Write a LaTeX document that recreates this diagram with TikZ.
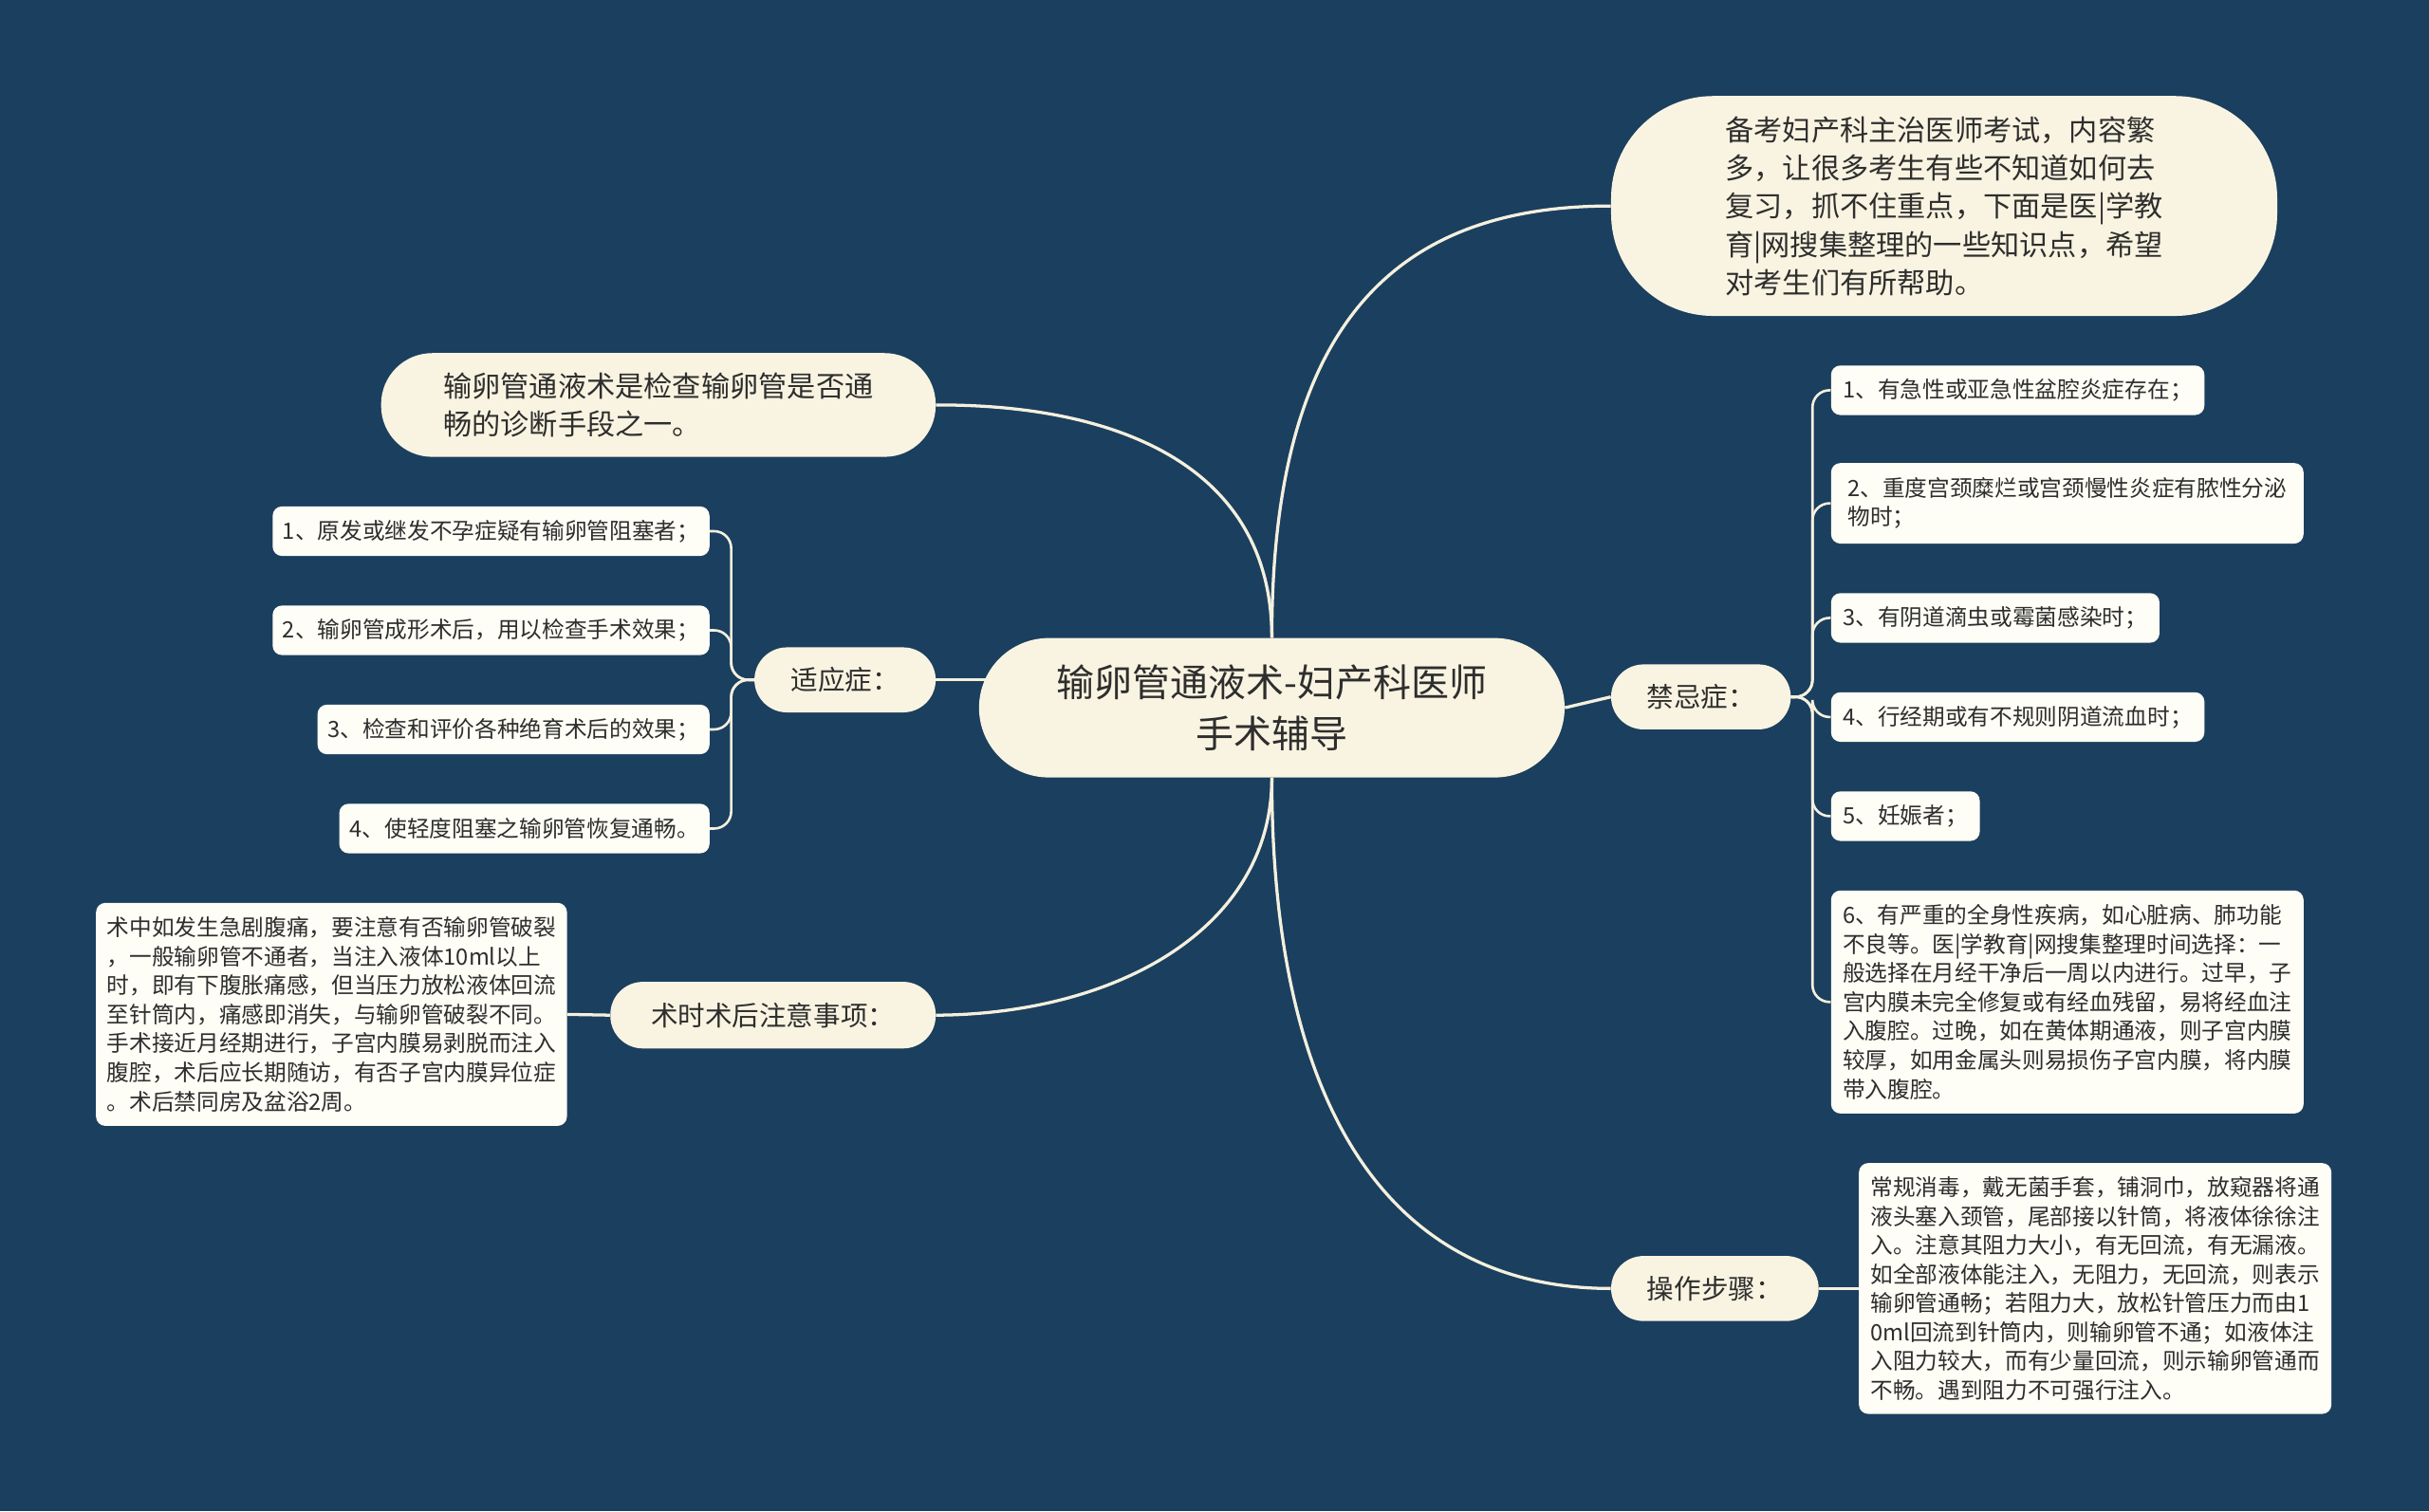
\documentclass[tikz,border=0pt]{standalone}
\usepackage{fontspec}
\setmainfont{Noto Sans CJK SC}
\usetikzlibrary{backgrounds}
\definecolor{bgc}{HTML}{1B3F5E}
\definecolor{pillc}{HTML}{F9F4E1}
\definecolor{boxc}{HTML}{FEFDF6}
\definecolor{txtc}{HTML}{2E2E2E}
\definecolor{linec}{HTML}{F4F0DE}
\tikzset{
  pill/.style={fill=pillc, draw=none, inner sep=0pt, align=left, text=txtc},
  leaf/.style={fill=boxc, draw=none, inner sep=0pt, align=left, text=txtc, rounded corners=6pt, minimum height=32pt,
    font=\fontsize{14.5}{18.7}\selectfont},
  conn/.style={draw=linec, line width=2pt},
  brk/.style={draw=linec, line width=1.6pt, rounded corners=11pt},
}
\begin{document}
\begin{tikzpicture}[x=1pt,y=-1pt]
\useasboundingbox (0,0) rectangle (1568,976);

% central
\node[pill, minimum width=378pt, minimum height=90pt, rounded corners=45pt, align=center,
  font=\fontsize{24.5}{33}\selectfont] (root) at (821,457) {输卵管通液术-妇产科医师\\手术辅导};

% intro
\node[pill, minimum width=430pt, minimum height=142pt, rounded corners=66pt,
  font=\fontsize{18.5}{24.7}\selectfont] (intro) at (1255,133)
  {备考妇产科主治医师考试，内容繁\\多，让很多考生有些不知道如何去\\复习，抓不住重点，下面是医|学教\\育|网搜集整理的一些知识点，希望\\对考生们有所帮助。};

% left top
\node[pill, minimum width=358pt, minimum height=67pt, rounded corners=33pt,
  font=\fontsize{18.5}{25}\selectfont] (lt) at (425,261.5)
  {输卵管通液术是检查输卵管是否通\\畅的诊断手段之一。};

% indications
\node[pill, minimum width=117pt, minimum height=42pt, rounded corners=21pt,
  font=\fontsize{17.5}{22}\selectfont] (syz) at (545.5,439) {适应症：};
\node[leaf, minimum width=282pt] (l1) at (317,343) {1、原发或继发不孕症疑有输卵管阻塞者；};
\node[leaf, minimum width=282pt] (l2) at (317,407) {2、输卵管成形术后，用以检查手术效果；};
\node[leaf, minimum width=253pt] (l3) at (331.5,471) {3、检查和评价各种绝育术后的效果；};
\node[leaf, minimum width=239pt] (l4) at (338.5,535) {4、使轻度阻塞之输卵管恢复通畅。};

% notes
\node[pill, minimum width=210pt, minimum height=43pt, rounded corners=21pt,
  font=\fontsize{17.5}{22}\selectfont] (sh) at (499,655.5) {术时术后注意事项：};
\node[leaf, minimum width=304pt, minimum height=144pt] (note) at (214,655)
  {术中如发生急剧腹痛，要注意有否输卵管破裂\\，一般输卵管不通者，当注入液体10ml以上\\时，即有下腹胀痛感，但当压力放松液体回流\\至针筒内，痛感即消失，与输卵管破裂不同。\\手术接近月经期进行，子宫内膜易剥脱而注入\\腹腔，术后应长期随访，有否子宫内膜异位症\\。术后禁同房及盆浴2周。};

% contraindications
\node[pill, minimum width=116pt, minimum height=42pt, rounded corners=21pt,
  font=\fontsize{17.5}{22}\selectfont] (jj) at (1098,450) {禁忌症：};
\node[leaf, minimum width=241pt] (r1) at (1302.5,252) {1、有急性或亚急性盆腔炎症存在；};
\node[leaf, minimum width=305pt, minimum height=52pt] (r2) at (1334.5,325) {2、重度宫颈糜烂或宫颈慢性炎症有脓性分泌\\物时；};
\node[leaf, minimum width=212pt] (r3) at (1288,399) {3、有阴道滴虫或霉菌感染时；};
\node[leaf, minimum width=241pt] (r4) at (1302.5,463) {4、行经期或有不规则阴道流血时；};
\node[leaf, minimum width=96pt] (r5) at (1230,527) {5、妊娠者；};
\node[leaf, minimum width=305pt, minimum height=144pt] (r6) at (1334.5,647)
  {6、有严重的全身性疾病，如心脏病、肺功能\\不良等。医|学教育|网搜集整理时间选择：一\\般选择在月经干净后一周以内进行。过早，子\\宫内膜未完全修复或有经血残留，易将经血注\\入腹腔。过晚，如在黄体期通液，则子宫内膜\\较厚，如用金属头则易损伤子宫内膜，将内膜\\带入腹腔。};

% operation
\node[pill, minimum width=134pt, minimum height=42pt, rounded corners=21pt,
  font=\fontsize{17.5}{22}\selectfont] (cz) at (1107,832) {操作步骤：};
\node[leaf, minimum width=305pt, minimum height=162pt] (op) at (1352.5,832)
  {常规消毒，戴无菌手套，铺洞巾，放窥器将通\\液头塞入颈管，尾部接以针筒，将液体徐徐注\\入。注意其阻力大小，有无回流，有无漏液。\\如全部液体能注入，无阻力，无回流，则表示\\输卵管通畅；若阻力大，放松针管压力而由1\\0ml回流到针筒内，则输卵管不通；如液体注\\入阻力较大，而有少量回流，则示输卵管通而\\不畅。遇到阻力不可强行注入。};

\begin{pgfonlayer}{background}
\fill[bgc] (0,0) rectangle (1568,976);
% main connectors
\draw[conn] (root.north) .. controls (821,210) and (900,133) .. (intro.west);
\draw[conn] (root.north) .. controls (821,300) and (720,261) .. (lt.east);
\draw[conn] (root.center |- syz.east) -- (syz.east);
\draw[conn] (root.south) .. controls (821,600) and (720,655) .. (sh.east);
\draw[conn] (root.south) .. controls (821,720) and (900,832) .. (cz.west);
\draw[conn] (root.east) -- (jj.west);
\draw[conn] (sh.west) -- (note.east);
\draw[conn] (cz.east) -- (op.west);
% brackets left
\foreach \c in {l1,l2,l3,l4}{
  \draw[brk] (syz.west) -- (472,439) |- (\c.east);
}
% brackets right
\foreach \c in {r1,r2,r3,r4,r5,r6}{
  \draw[brk] (jj.east) -- (1170,450) |- (\c.west);
}
\end{pgfonlayer}
\end{tikzpicture}
\end{document}
